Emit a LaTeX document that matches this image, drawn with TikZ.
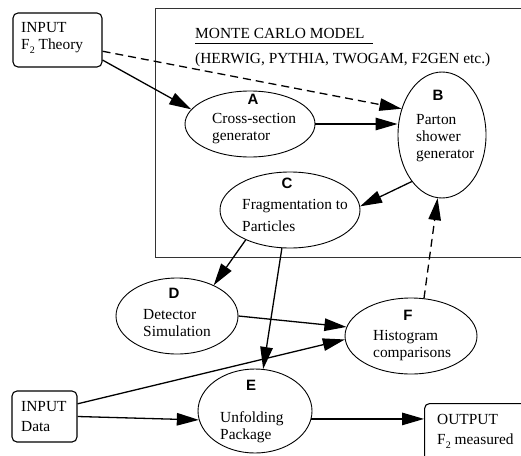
\documentclass[tikz,border=0pt]{standalone}
\usepackage{fontspec}
\setmainfont{Liberation Serif}
\setsansfont{Liberation Sans}
\usetikzlibrary{shapes.geometric}
\usetikzlibrary{arrows.meta}

\newcommand{\subtwo}{\raisebox{-4pt}{\fontsize{10}{12}\selectfont 2}}

\tikzset{
	blob/.style={ellipse, draw, line width=0.9pt, inner sep=0pt},
	iobox/.style={rectangle, rounded corners=5pt, draw, line width=1.1pt, inner sep=0pt},
	txt/.style={anchor=north west, align=left, inner sep=0pt, font=\fontsize{15.4}{17}\selectfont},
	tag/.style={anchor=base, inner sep=0pt, font=\fontsize{15}{16}\selectfont\sffamily\bfseries},
	flow/.style={line width=1.3pt, -{Triangle[length=22pt,width=12.5pt]}},
	feedback/.style={flow, dash pattern=on 8pt off 5pt},
}

\begin{document}
\begin{tikzpicture}[x=1pt,y=-1pt]
	\clip (0,0) rectangle (521,455);

	% Monte Carlo frame
	\draw[line width=0.9pt, black!80] (155,8) rectangle (530,257);
	\node[txt, anchor=base west] (mctitle) at (195,38) {MONTE CARLO MODEL};
	\draw[line width=0.7pt] ([yshift=-5pt]mctitle.base west) -- ([xshift=8pt,yshift=-5pt]mctitle.base east);
	\node[txt, anchor=base west] (mcsub) at (195,63) {(HERWIG, PYTHIA, TWOGAM, F2GEN etc.)};

	% the six stages
	\node[blob, minimum width=130pt, minimum height=66pt] (A) at (250,124) {};
	\node[blob, minimum width=88pt, minimum height=126pt] (B) at (442,135) {};
	\node[blob, minimum width=140pt, minimum height=76pt] (C) at (290,210) {};
	\node[blob, minimum width=122pt, minimum height=76pt] (D) at (177,316) {};
	\node[blob, minimum width=114pt, minimum height=84pt] (E) at (255,411) {};
	\node[blob, minimum width=132pt, minimum height=76pt] (F) at (411,336) {};

	\node[tag] (Atag) at (253,104) {A};
	\node[tag] (Btag) at (438,100) {B};
	\node[tag] (Ctag) at (287,188) {C};
	\node[tag] (Dtag) at (174,298) {D};
	\node[tag] (Etag) at (251,390) {E};
	\node[tag] (Ftag) at (408,320) {F};

	\node[txt] (Atxt) at (212,113.5) {Cross-section\\generator};
	\node[txt] (Btxt) at (416,114.5) {Parton\\shower\\generator};
	\node[txt] (Ctxt) at (242,199.5) {Fragmentation to\\[5pt]Particles};
	\node[txt] (Dtxt) at (143,309.5) {Detector\\Simulation};
	\node[txt] (Etxt) at (220,411.5) {Unfolding\\Package};
	\node[txt] (Ftxt) at (373,330.5) {Histogram\\comparisons};

	% inputs and output
	\node[iobox, minimum width=89pt, minimum height=54pt] (theory) at (57.5,40) {};
	\node[txt] (theorytxt) at (21,22.5) {INPUT\\F\subtwo{} Theory};
	\node[iobox, minimum width=65pt, minimum height=51pt] (data) at (44.5,416.5) {};
	\node[txt] (datatxt) at (21,401.5) {INPUT\\[3pt]Data};
	\node[iobox, minimum width=130pt, minimum height=80pt, anchor=north west] (out) at (424,403) {};
	\node[txt] (outtxt) at (437,414.5) {OUTPUT\\[3pt]F\subtwo{} measured};

	% connectors
	\draw[flow] (theory.-24) -- (A.166);
	\draw[feedback] (theory.-14) -- (B.147);
	\draw[flow] (A.east) -- (A.east -| B.west);
	\draw[flow] (B.237) -- (C.3);
	\draw[flow] (C.214) -- (D.40);
	\draw[flow] (C.258) -- (E.79);
	\draw[flow] (D.east) -- (F.172);
	\draw[flow] (data.21) -- (F.183);
	\draw[flow] (data.east) -- (E.189);
	\draw[flow] (E.-8) -- (E.-8 -| out.west);
	\draw[feedback] (F.71) -- (B.266);
\end{tikzpicture}
\end{document}
